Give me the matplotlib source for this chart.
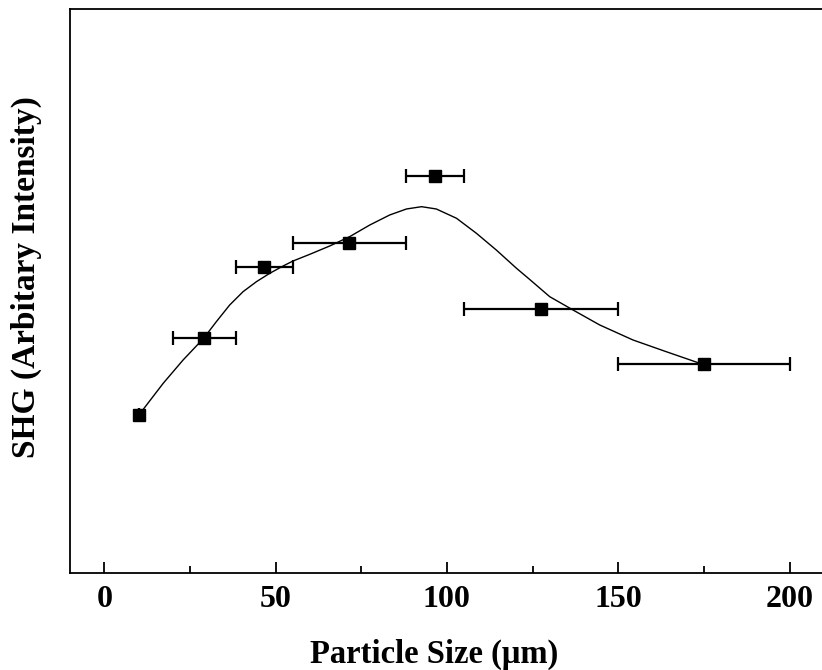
import matplotlib
matplotlib.use("Agg")
import matplotlib.pyplot as plt
import numpy as np

# Pontos medidos (tamanho de particula em um, SHG em unidades arbitrarias)
size = [10, 29, 46.6, 71.4, 96.6, 127.4, 175]
shg = [158, 235, 306, 330, 397, 264, 209]
size_lo = [10, 20, 38.3, 55, 88, 105, 150]
size_hi = [10, 38.3, 55, 88, 105, 150, 200]

# Curva de ajuste
fit_x = [10.1, 17.2, 23.0, 29.0, 32.7, 36.6, 40.5, 44.4, 48.3, 52.2, 55.1,
         60.0, 65.8, 71.6, 77.5, 83.3, 88.2, 92.6, 96.9, 102.8, 108.6,
         114.4, 120.3, 124.1, 130.0, 136.8, 144.6, 154.3, 164.0, 173.8]
fit_y = [158, 189.7, 213, 234.7, 251.3, 268, 281.3, 291.3, 299.7, 307, 312,
         318.7, 327, 336.3, 348, 358, 364, 366.3, 364, 354.7, 339.7,
         323, 304.7, 293.7, 276.3, 263, 248, 233, 221.3, 209.7]

xticks = [0, 50, 100, 150, 200]

plt.rcParams["font.family"] = ["Liberation Serif", "DejaVu Serif"]
plt.rcParams["font.weight"] = "bold"

fig = plt.figure(figsize=(8.22, 6.70), dpi=100)
ax = fig.add_axes([0.0852, 0.1448, 0.917, 0.8418])

ax.plot(fit_x, fit_y, color="black", lw=1.0, zorder=2)

x = np.array(size)
xerr = [x - np.array(size_lo), np.array(size_hi) - x]
ax.errorbar(size, shg, xerr=xerr, fmt="s", color="black", ms=8,
            ecolor="black", elinewidth=1.6, capsize=4.7, capthick=1.6, zorder=3)

ax.set_xlim(-10, 210)
ax.set_ylim(0, 564)
ax.set_xticks(xticks)
ax.set_xticks([25, 75, 125, 175], minor=True)
ax.set_yticks([])
ax.tick_params(axis="x", which="major", direction="in", length=8, width=1.3,
               labelsize=23, pad=9)
ax.tick_params(axis="x", which="minor", direction="in", length=5, width=1.3)
for lab in ax.get_xticklabels():
    lab.set_fontweight("bold")

for side in ["left", "bottom", "top"]:
    ax.spines[side].set_linewidth(1.3)
ax.spines["right"].set_visible(False)

# Rotulos dos eixos posicionados como na figura original
fig.text(434 / 822, 1 - 654 / 670, "Particle Size (\u03bcm)", fontsize=23.5,
         fontweight="bold", ha="center", va="center")
fig.text(26 / 822, 1 - 277 / 670, "SHG (Arbitary Intensity)", fontsize=24,
         fontweight="bold", ha="center", va="center", rotation=90)

fig.savefig("out.png", dpi=100)
